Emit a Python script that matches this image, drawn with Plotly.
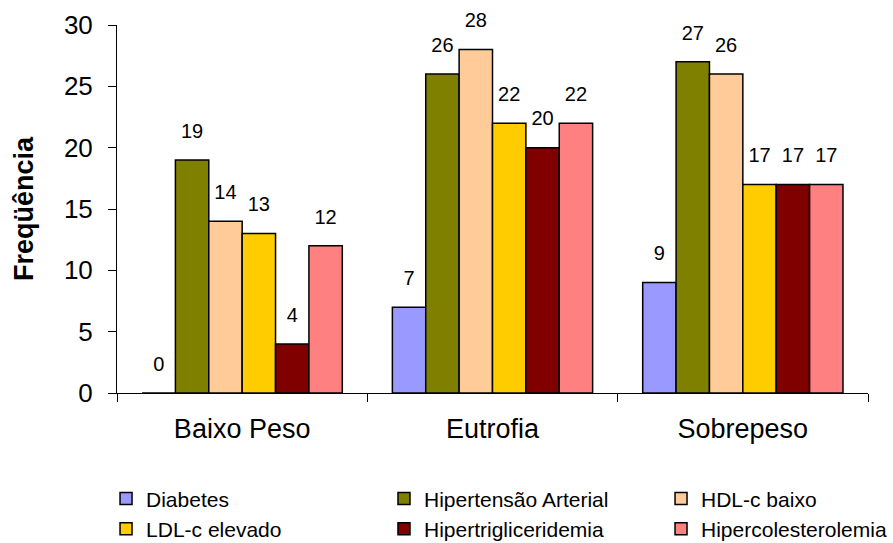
import plotly.graph_objects as go

# Categorias de estado nutricional
categorias = ["Baixo Peso", "Eutrofia", "Sobrepeso"]

# Frequência de cada comorbidade por categoria
diabetes = [0, 7, 9]
hipertensao = [19, 26, 27]
hdl_baixo = [14, 28, 26]
ldl_elevado = [13, 22, 17]
hipertrigliceridemia = [4, 20, 17]
hipercolesterolemia = [12, 22, 17]

nomes = ["Diabetes", "Hipertensão Arterial", "HDL-c baixo",
         "LDL-c elevado", "Hipertrigliceridemia", "Hipercolesterolemia"]
valores = [diabetes, hipertensao, hdl_baixo, ldl_elevado,
           hipertrigliceridemia, hipercolesterolemia]
cores = ["#9999FF", "#808000", "#FFCC99", "#FFCC00", "#800000", "#FF8080"]
# three legend columns, filled row by row
colunas_legenda = ["legend", "legend2", "legend3", "legend", "legend2", "legend3"]

FONTE = "Arial, Liberation Sans, sans-serif"

fig = go.Figure()
for i, (nome, vals, cor) in enumerate(zip(nomes, valores, cores)):
    fig.add_trace(go.Bar(
        x=categorias, y=vals, name=nome,
        marker=dict(color=cor, line=dict(color="black", width=1.5)),
        offsetgroup=str(i), legend=colunas_legenda[i],
    ))
for i, vals in enumerate(valores):
    # value labels above each bar (invisible marker keeps a gap above the bar)
    fig.add_trace(go.Scatter(
        x=categorias, y=vals, mode="markers+text",
        text=[str(v) for v in vals], textposition="top center",
        textfont=dict(family=FONTE, size=20, color="black"),
        marker=dict(size=26, color="rgba(0,0,0,0)"),
        offsetgroup=str(i), showlegend=False, hoverinfo="skip",
        cliponaxis=False,
    ))

leg_common = dict(orientation="v", xanchor="left", yanchor="top", y=-0.232,
                  font=dict(family=FONTE, size=21, color="black"),
                  bgcolor="rgba(0,0,0,0)", borderwidth=0, traceorder="normal")

fig.update_layout(
    width=893, height=543,
    margin=dict(l=117, r=25, t=25, b=150, autoexpand=False),
    paper_bgcolor="white", plot_bgcolor="white",
    font=dict(family=FONTE, color="black"),
    barmode="group", bargap=0.2, bargroupgap=0,
    scattermode="group", scattergap=0.2,
    legend=dict(x=-0.0146, **leg_common),
    legend2=dict(x=0.3555, **leg_common),
    legend3=dict(x=0.7244, **leg_common),
    xaxis=dict(
        showline=True, linecolor="black", linewidth=1,
        ticks="outside", tickson="boundaries", ticklen=8, tickcolor="black",
        tickfont=dict(family=FONTE, size=27, color="black"),
        showgrid=False, zeroline=False, ticklabelstandoff=12,
    ),
    yaxis=dict(
        range=[0, 30], dtick=5, tick0=0,
        showline=True, linecolor="black", linewidth=1,
        ticks="outside", ticklen=8, tickcolor="black",
        tickfont=dict(family=FONTE, size=26, color="black"),
        showgrid=False, zeroline=False, ticklabelstandoff=10,
        title=dict(text="<b>Freqüência</b>", standoff=22,
                   font=dict(family=FONTE, size=27, color="black")),
    ),
)

fig.write_html("out.html")
